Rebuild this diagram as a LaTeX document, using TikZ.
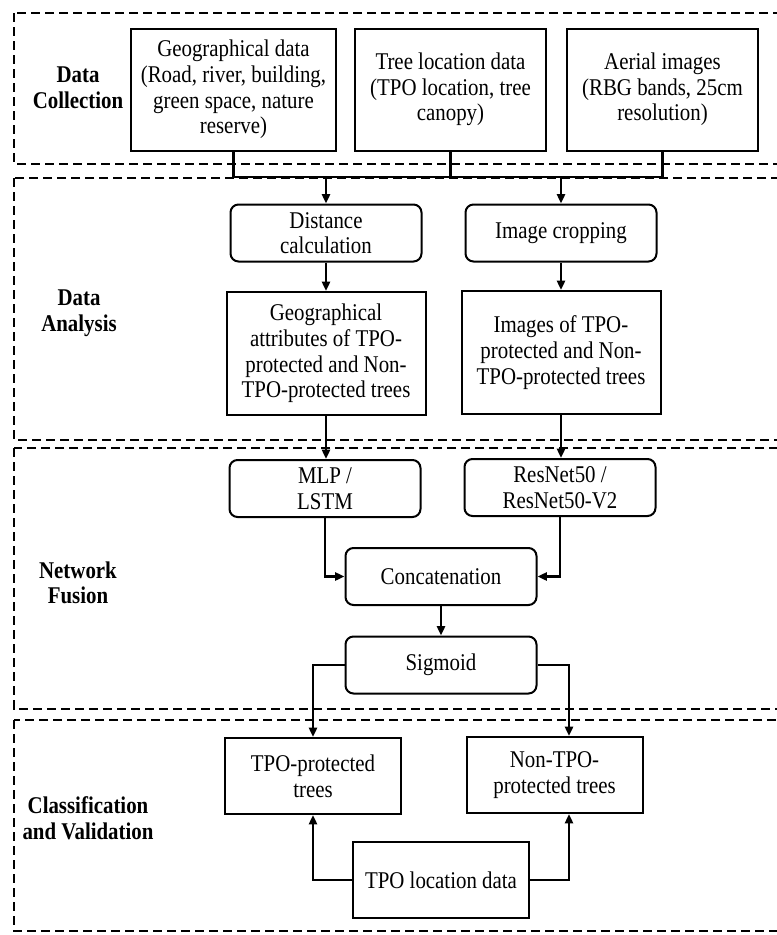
\documentclass[tikz,border=0pt]{standalone}
\usepackage{fontspec}
\setmainfont{Liberation Serif}[FakeStretch=0.87]
\usetikzlibrary{calc,arrows.meta}
\def\panel(#1:#2){\draw[panelline] (14,#1) rectangle (800,#2);}
\tikzset{
	block/.style={draw, line width=1.5pt, align=center, inner sep=0pt, minimum width=143.25pt, minimum height=42.75pt, font=\fontsize{18}{19.2}\selectfont},
	rblock/.style={block, rounded corners=6pt},
	stage/.style={align=center, font=\fontsize{18}{19.2}\selectfont\bfseries},
	wire/.style={line width=1.8pt},
	arrow/.style={wire, -{Triangle[length=7pt,width=6pt]}},
	panelline/.style={line width=1.8pt, dash pattern=on 7pt off 3.5pt},
}

\begin{document}
\begin{tikzpicture}[x=0.75pt, y=-0.75pt]
		%%%%% START %%%%%
		\useasboundingbox (0, 0) rectangle (777, 935);
		\clip (0, 0) rectangle (777, 935);
		
		\panel(13:164)
		\panel(178:440)
		\panel(448:709)
		\panel(720:931)
		
		\node[stage] (lblcollect) at (78, 88) {Data\\Collection};
		\node[stage] (lblanalysis) at (79, 313) {Data\\Analysis};
		\node[stage] (lblfusion) at (78, 583) {Network\\Fusion};
		\node[stage] (lblvalid) at (88, 818) {Classification\\and Validation};
		
		\node[block, minimum width=153.75pt, minimum height=91.5pt] (geo) at (233.5, 89.5) {Geographical data\\(Road, river, building,\\green space, nature\\reserve)};
		\node[block, minimum height=91.5pt] (tree) at (450.5, 89.5) {Tree location data\\(TPO location, tree\\canopy)};
		\node[block, minimum height=91.5pt] (aerial) at (662.5, 89.5) {Aerial images\\(RBG bands, 25cm\\resolution)};
		
		\coordinate (bus) at (0, 177);
		\draw[wire] (geo.south) |- (aerial.south |- bus) -- (aerial.south);
		\draw[wire] (tree.south) -- (tree.south |- bus);
		
		\node[rblock] (dist) at (326, 233) {Distance\\calculation};
		\node[rblock] (crop) at (561, 233) {Image cropping};
		\draw[arrow] (dist.north |- bus) -- (dist.north);
		\draw[arrow] (crop.north |- bus) -- (crop.north);
		
		\node[block, minimum width=149.25pt, minimum height=92.25pt] (geoattr) at (326, 353.5) {Geographical\\attributes of TPO-\\protected and Non-\\TPO-protected trees};
		\node[block, minimum width=149.25pt, minimum height=92.25pt] (images) at (561, 352.5) {Images of TPO-\\protected and Non-\\TPO-protected trees};
		\draw[arrow] (dist.south) -- (geoattr.north);
		\draw[arrow] (crop.south) -- (images.north);
		
		\node[rblock] (mlp) at (325, 488.5) {MLP /\\LSTM};
		\node[rblock] (resnet) at (560, 487.5) {ResNet50 /\\ResNet50-V2};
		\draw[arrow] (geoattr.south) -- (geoattr.south |- mlp.north);
		\draw[arrow] (images.south) -- (images.south |- resnet.north);
		
		\node[rblock] (concat) at (441, 576.5) {Concatenation};
		\node[rblock] (sigmoid) at (441, 665) {Sigmoid};
		\draw[arrow] (mlp.south) |- (concat.west);
		\draw[arrow] (resnet.south) |- (concat.east);
		\draw[arrow] (concat.south) -- (sigmoid.north);
		
		\node[block, minimum width=132pt, minimum height=57pt] (tpoprot) at (313, 776) {TPO-protected\\trees};
		\node[block, minimum width=132pt, minimum height=57pt] (nontpo) at (554.5, 775) {Non-TPO-\\protected trees};
		\node[block, minimum width=132pt, minimum height=57pt] (tpoloc) at (441, 880) {TPO location data};
		\draw[arrow] (sigmoid.west) -| (tpoprot.north);
		\draw[arrow] (sigmoid.east) -| ($(nontpo.north)+(14.5, 0)$);
		\draw[arrow] (tpoloc.west) -| (tpoprot.south);
		\draw[arrow] (tpoloc.east) -| ($(nontpo.south)+(14.5, 0)$);
		%%%%% END %%%%%
	\end{tikzpicture}
\end{document}
